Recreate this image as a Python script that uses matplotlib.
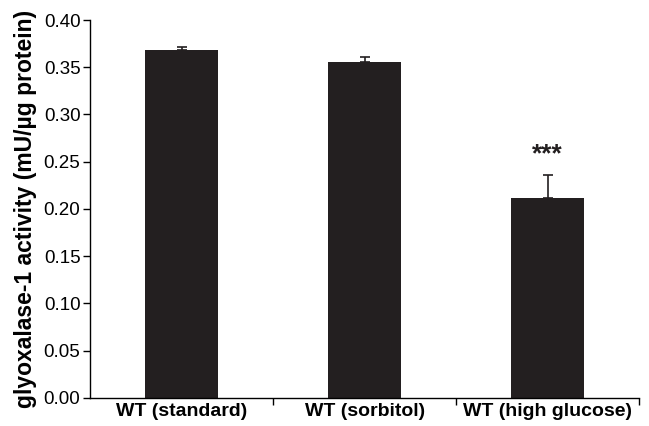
import matplotlib.pyplot as plt
import numpy as np

plt.rcParams['font.family'] = ['Liberation Sans', 'DejaVu Sans']

groups = ['WT (standard)', 'WT (sorbitol)', 'WT (high glucose)']
activity = [0.368, 0.356, 0.212]
sem = [0.003, 0.005, 0.024]
yticks = [0.00, 0.05, 0.10, 0.15, 0.20, 0.25, 0.30, 0.35, 0.40]

fig, ax = plt.subplots(figsize=(6.49, 4.26), dpi=100)
fig.subplots_adjust(left=0.139, right=0.985, top=0.953, bottom=0.066)

x = np.arange(len(groups))
ax.bar(x, activity, width=0.4, color='#231f20', zorder=2)
ax.errorbar(x, activity, yerr=[np.zeros(len(sem)), sem], fmt='none',
            ecolor='#231f20', elinewidth=1.2, capsize=3.5, capthick=1.2, zorder=3)
# significance marker above high glucose bar
ax.text(x[2], 0.258, '***', ha='center', va='center',
        fontsize=19, fontweight='bold', color='#231f20')

ax.set_xlim(-0.5, 2.5)
ax.set_ylim(0, 0.40)
ax.set_yticks(yticks)
ax.set_yticklabels(['%.2f' % v for v in yticks], fontsize=13.5)
ax.set_xticks(x)
ax.set_xticklabels(groups, fontsize=14, fontweight='bold')
ax.tick_params(axis='x', length=0, pad=4)
ax.set_xticks([0.5, 1.5, 2.5], minor=True)
ax.tick_params(axis='x', which='minor', length=5, direction='out', width=1)
ax.tick_params(axis='y', length=5, direction='out', width=1, pad=2)

ax.spines['top'].set_visible(False)
ax.spines['right'].set_visible(False)
ax.spines['left'].set_linewidth(1)
ax.spines['bottom'].set_linewidth(1)

ax.set_ylabel('glyoxalase-1 activity (mU/µg protein)', fontsize=16.5,
              fontweight='bold', labelpad=5)

fig.savefig('out.png', dpi=100)
